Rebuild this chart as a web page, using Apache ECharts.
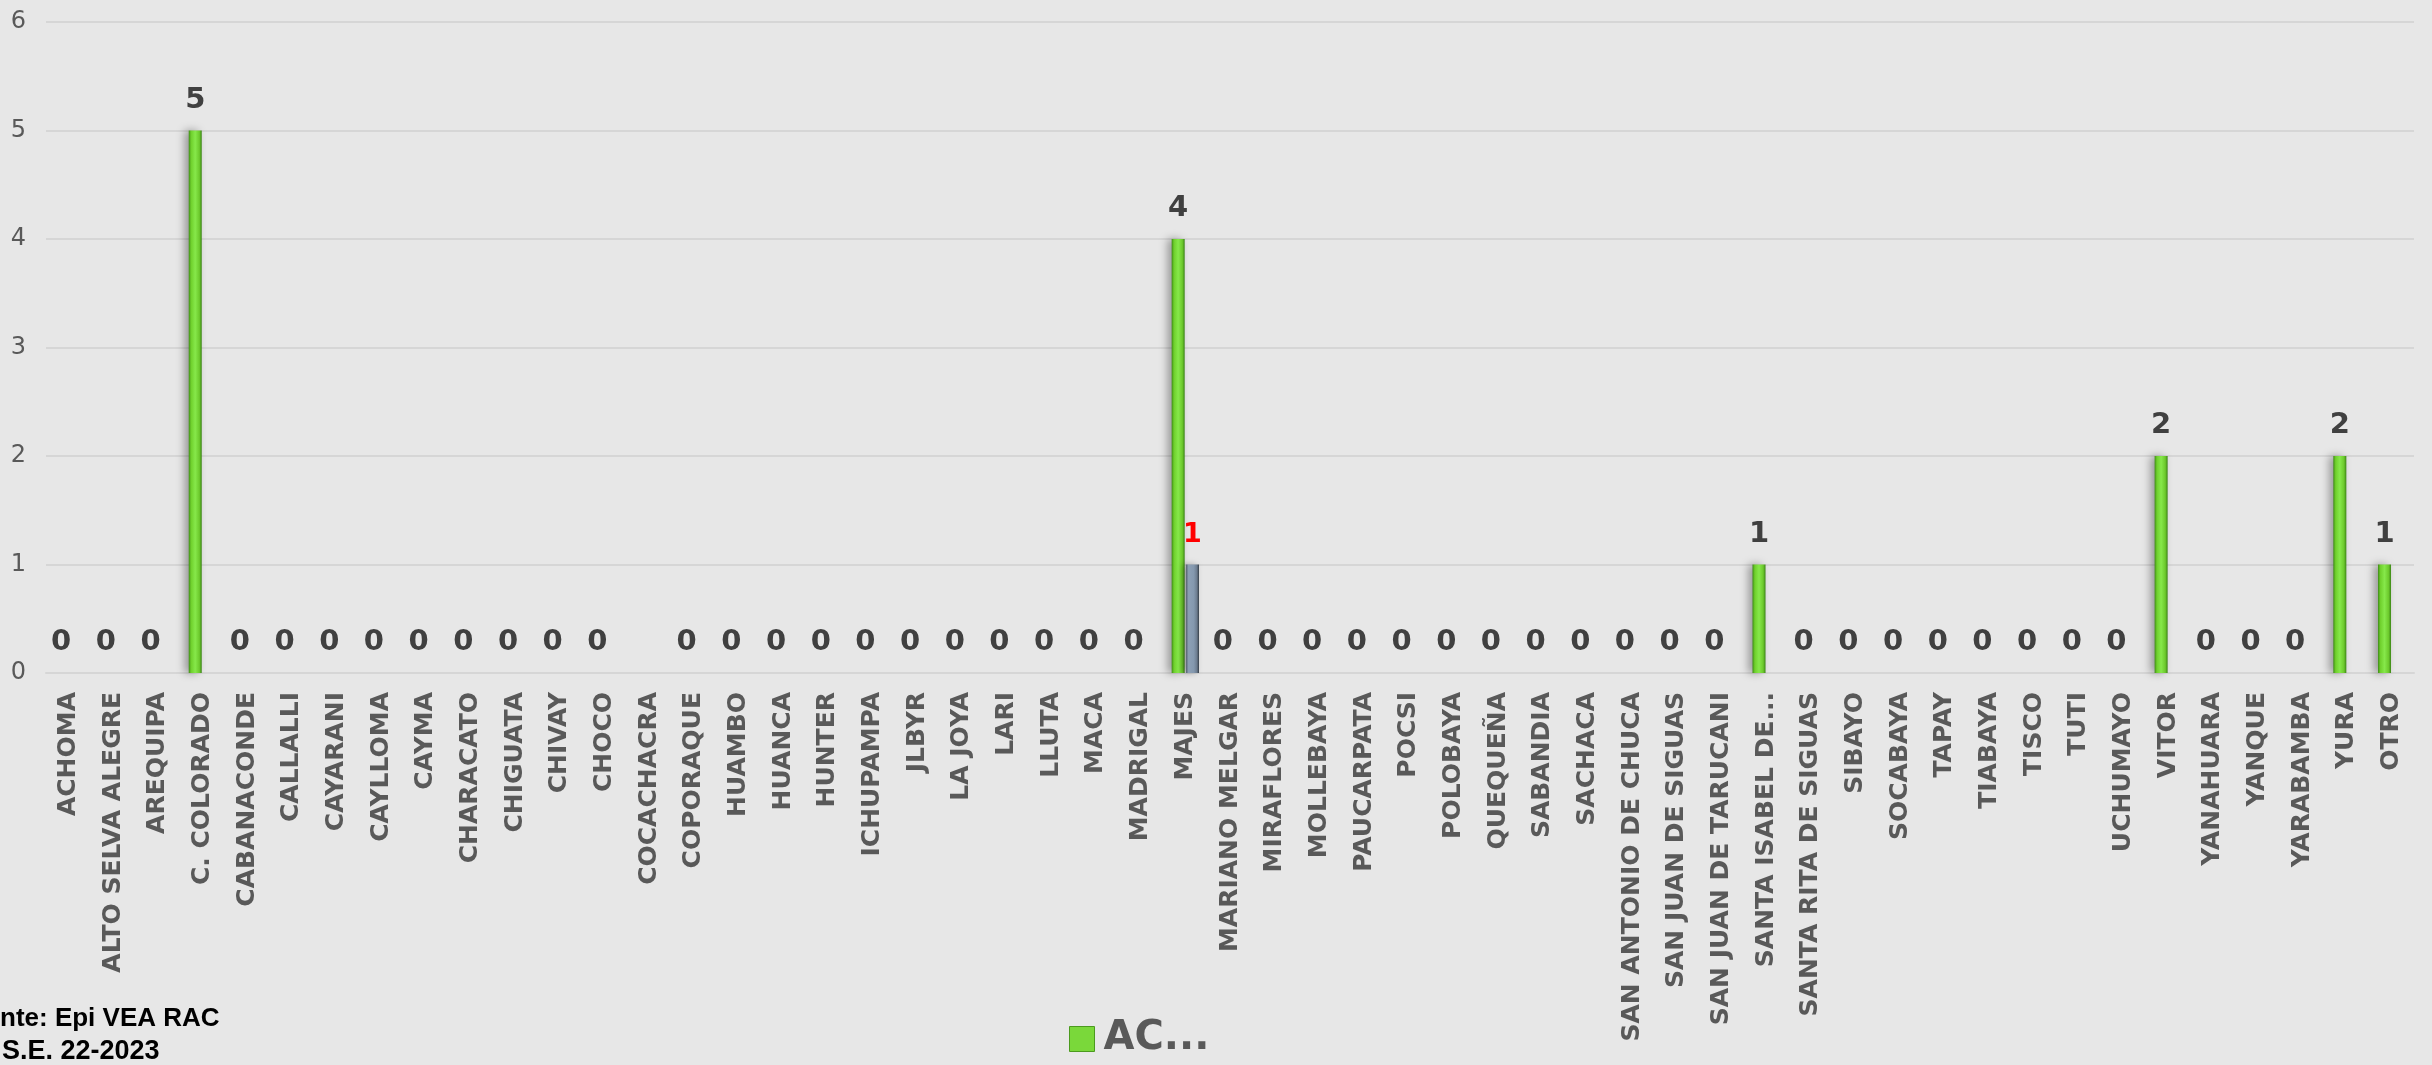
<!DOCTYPE html>
<html>
<head>
<meta charset="utf-8">
<script src="https://cdn.jsdelivr.net/npm/echarts@6/dist/echarts.min.js"></script>
<style>
html,body{margin:0;padding:0;background:#e7e7e7;}
#chart{width:2432px;height:1065px;}
</style>
</head>
<body>
<div id="chart"></div>
<script>
const categories = ["ACHOMA","ALTO SELVA ALEGRE","AREQUIPA","C. COLORADO","CABANACONDE","CALLALLI","CAYARANI","CAYLLOMA","CAYMA","CHARACATO","CHIGUATA","CHIVAY","CHOCO","COCACHACRA","COPORAQUE","HUAMBO","HUANCA","HUNTER","ICHUPAMPA","JLBYR","LA JOYA","LARI","LLUTA","MACA","MADRIGAL","MAJES","MARIANO MELGAR","MIRAFLORES","MOLLEBAYA","PAUCARPATA","POCSI","POLOBAYA","QUEQUEÑA","SABANDIA","SACHACA","SAN ANTONIO DE CHUCA","SAN JUAN DE SIGUAS","SAN JUAN DE TARUCANI","SANTA ISABEL DE...","SANTA RITA DE SIGUAS","SIBAYO","SOCABAYA","TAPAY","TIABAYA","TISCO","TUTI","UCHUMAYO","VITOR","YANAHUARA","YANQUE","YARABAMBA","YURA","OTRO"];
const acValues = [0,0,0,5,0,0,0,0,0,0,0,0,0,null,0,0,0,0,0,0,0,0,0,0,0,4,0,0,0,0,0,0,0,0,0,0,0,0,1,0,0,0,0,0,0,0,0,2,0,0,0,2,1];
const secondValues = [null,null,null,null,null,null,null,null,null,null,null,null,null,null,null,null,null,null,null,null,null,null,null,null,null,1,null,null,null,null,null,null,null,null,null,null,null,null,null,null,null,null,null,null,null,null,null,null,null,null,null,null,null];
const yTicks = {min:0, max:6, interval:1};
const legendName = "AC...";
const footer1 = "nte: Epi VEA RAC";
const footer2 = "S.E. 22-2023";

const chart = echarts.init(document.getElementById('chart'));
const greenGrad = new echarts.graphic.LinearGradient(0,0,1,0,[
  {offset:0,color:'#3d8a16'},{offset:0.18,color:'#6fd02c'},{offset:0.5,color:'#86e84a'},{offset:0.82,color:'#6cc92c'},{offset:1,color:'#3a8415'}]);
const grayGrad = new echarts.graphic.LinearGradient(0,0,1,0,[
  {offset:0,color:'#56616e'},{offset:0.2,color:'#8c9fb5'},{offset:0.6,color:'#8498ae'},{offset:0.85,color:'#6b7b8e'},{offset:1,color:'#2f3740'}]);
chart.setOption({
  backgroundColor:'#e7e7e7',
  animation:false,
  grid:{left:46,right:18,top:22,bottom:392,containLabel:false},
  legend:{
    data:[{name:legendName,icon:'rect',itemStyle:{color:'#7ad83a',borderColor:'#4b9a1e',borderWidth:1}}],
    left:1064,top:1014,itemWidth:25,itemHeight:25,
    textStyle:{fontFamily:'DejaVu Sans',fontWeight:'bold',fontSize:40,color:'#595959',padding:[0,0,0,4]}
  },
  xAxis:{
    type:'category',data:categories,
    axisTick:{show:false},
    axisLine:{show:true,lineStyle:{color:'#d6d6d6',width:2}},
    axisLabel:{interval:0,rotate:90,margin:19,fontFamily:'DejaVu Sans',fontWeight:'bold',fontSize:25,color:'#595959'}
  },
  yAxis:{
    type:'value',min:yTicks.min,max:yTicks.max,interval:yTicks.interval,
    axisLine:{show:false},axisTick:{show:false},
    splitLine:{lineStyle:{color:'#d6d6d6',width:2}},
    axisLabel:{margin:20,fontFamily:'DejaVu Sans',fontSize:24,color:'#595959'}
  },
  series:[
    {name:legendName,type:'bar',data:acValues,barWidth:13,barGap:'10%',
     itemStyle:{color:greenGrad,shadowColor:'rgba(0,0,0,0.35)',shadowBlur:8,shadowOffsetX:-4},
     label:{show:true,position:'top',distance:16,fontFamily:'DejaVu Sans',fontWeight:'bold',fontSize:29,color:'#404040'}},
    {name:'Serie 2',type:'bar',data:secondValues,barWidth:13,
     itemStyle:{color:grayGrad,shadowColor:'rgba(0,0,0,0.3)',shadowBlur:6,shadowOffsetX:-3},
     label:{show:true,position:'top',distance:16,fontFamily:'DejaVu Sans',fontWeight:'bold',fontSize:27,color:'#ff0000'}}
  ],
  graphic:[
    {type:'text',left:0,top:1006,style:{text:footer1,font:'bold 26px "Liberation Sans"',fill:'#000'}},
    {type:'text',left:2,top:1038,style:{text:footer2,font:'bold 27px "Liberation Sans"',fill:'#000'}}
  ]
});
</script>
</body>
</html>
